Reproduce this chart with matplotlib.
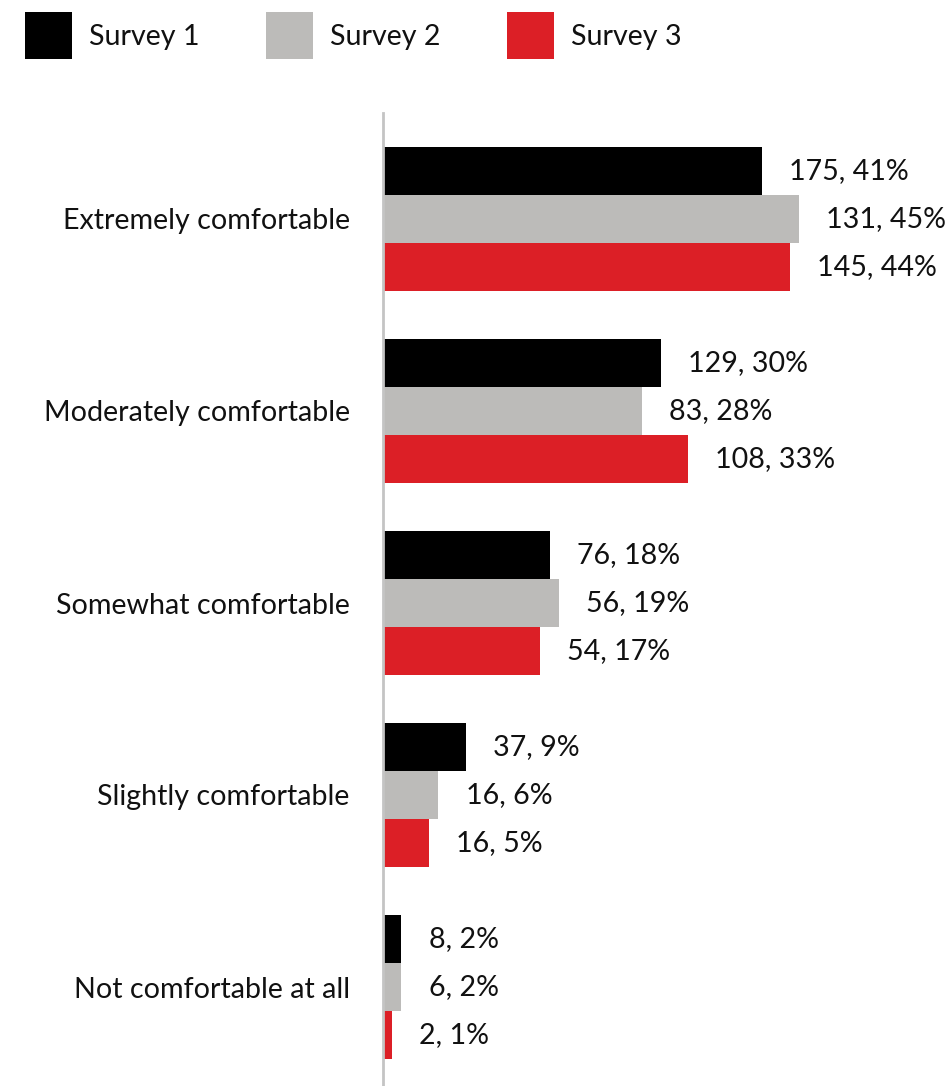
import matplotlib.pyplot as plt
import numpy as np

categories = ['Extremely comfortable', 'Moderately comfortable', 'Somewhat comfortable',
              'Slightly comfortable', 'Not comfortable at all']
series = ['Survey 1', 'Survey 2', 'Survey 3']
counts_1 = [175, 129, 76, 37, 8]
counts_2 = [131, 83, 56, 16, 6]
counts_3 = [145, 108, 54, 16, 2]
pct_1 = [41, 30, 18, 9, 2]
pct_2 = [45, 28, 19, 6, 2]
pct_3 = [44, 33, 17, 5, 1]
colors = ['#000000', '#bcbbb9', '#dc1f26']

plt.rcParams['font.family'] = ['Lato', 'DejaVu Sans']
fs = 20.6
txt = '#111111'

fig = plt.figure(figsize=(9.53, 10.86), dpi=100)
ax = fig.add_axes([383 / 953, 0, 1 - 383 / 953, (1086 - 113) / 1086])

y = np.arange(len(categories))
h = 0.25
counts = [counts_1, counts_2, counts_3]
pcts = [pct_1, pct_2, pct_3]
handles = []
for k in range(3):
    bars = ax.barh(y + (k - 1) * h, pcts[k], height=h, color=colors[k], label=series[k])
    handles.append(bars)
    for b, c, p in zip(bars, counts[k], pcts[k]):
        ax.annotate(f'{c}, {p}%', (b.get_width(), b.get_y() + h / 2),
                    xytext=(19.5, 0), textcoords='offset points',
                    va='center', ha='left', fontsize=fs, color=txt)

ax.set_xlim(0, (953 - 383) / 9.25)
ax.set_ylim((1086 - 219) / 192, (113 - 219) / 192)
ax.set_yticks(y)
ax.set_yticklabels(categories, fontsize=fs, color=txt)
ax.tick_params(axis='y', length=0, pad=24)
ax.set_xticks([])
for s in ['top', 'right', 'bottom']:
    ax.spines[s].set_visible(False)
ax.spines['left'].set_color('#c4c4c4')
ax.spines['left'].set_linewidth(2)

# one legend per entry so the columns sit at fixed spots
for k in range(3):
    leg = fig.legend([handles[k]], [series[k]], loc='upper left',
                     bbox_to_anchor=((25 + 241 * k) / 953, 1 - 12 / 1086),
                     frameon=False, fontsize=fs, borderpad=0, borderaxespad=0,
                     handlelength=1.65, handleheight=2.16, handletextpad=0.6,
                     labelcolor=txt)

fig.savefig('out.png', dpi=100)
